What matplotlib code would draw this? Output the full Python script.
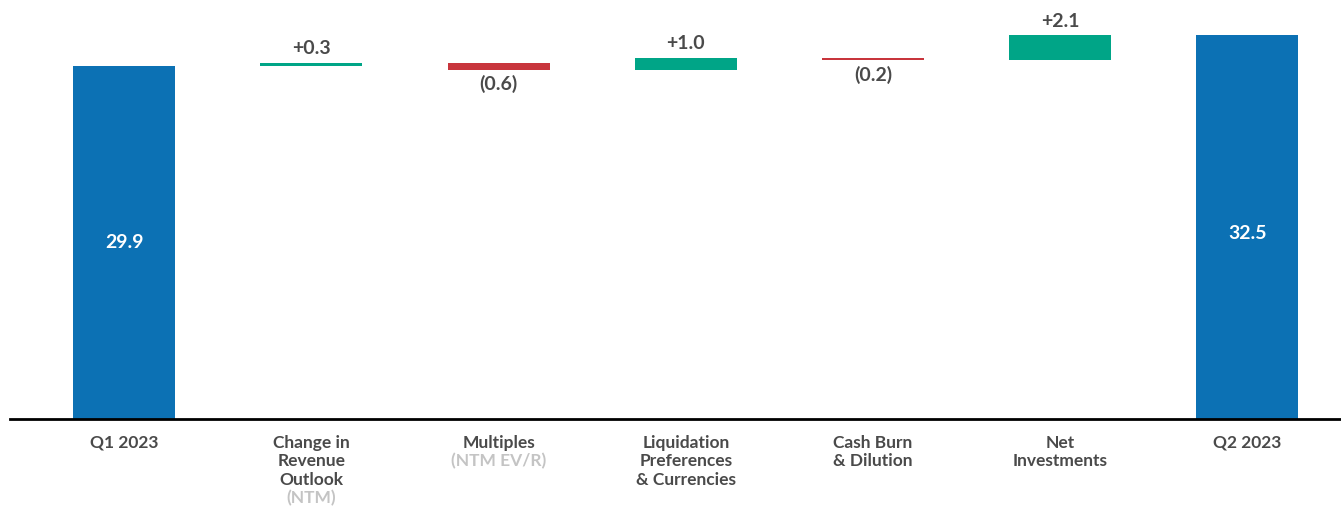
import matplotlib.pyplot as plt
import numpy as np

plt.rcParams['font.family'] = ['Lato', 'DejaVu Sans']

# waterfall data
labels = [['Q1 2023'], ['Change in', 'Revenue', 'Outlook'], ['Multiples'],
          ['Liquidation', 'Preferences', '& Currencies'], ['Cash Burn', '& Dilution'],
          ['Net', 'Investments'], ['Q2 2023']]
sublabels = ['', '(NTM)', '(NTM EV/R)', '', '', '', '']
start = 29.9
deltas = [0.3, -0.6, 1.0, -0.2, 2.1]
end = 32.5

blue = '#0c71b4'
green = '#00a587'
red = '#c8353c'
txt = '#4a4a4a'
sub = '#c4c4c4'

fig = plt.figure(figsize=(13.41, 5.07), dpi=100)
ax = fig.add_axes([0.0075, 0.1736, 0.9925, 0.8264])

w = 0.545
ax.bar(0, start, width=w, color=blue)
ax.text(0, start / 2, f'{start:.1f}', ha='center', va='center', color='white',
        fontsize=14, fontweight='bold')

level = start
for i, d in enumerate(deltas, start=1):
    bottom = level if d > 0 else level + d
    ax.bar(i, abs(d), bottom=bottom, width=w, color=green if d > 0 else red)
    if d > 0:
        ax.annotate(f'+{d:.1f}', xy=(i, level + d), xytext=(0, 4), textcoords='offset points',
                    ha='center', va='bottom', color=txt, fontsize=14, fontweight='bold')
    else:
        ax.annotate(f'({abs(d):.1f})', xy=(i, level + d), xytext=(0, -4), textcoords='offset points',
                    ha='center', va='top', color=txt, fontsize=14, fontweight='bold')
    level += d

ax.bar(6, end, width=w, color=blue)
ax.text(6, end / 2 - 0.5, f'{end:.1f}', ha='center', va='center', color='white',
        fontsize=14, fontweight='bold')

# category labels under the axis
for i, lines in enumerate(labels):
    for k, line in enumerate(lines):
        ax.annotate(line, xy=(i, 0), xycoords=('data', 'axes fraction'),
                    xytext=(0, -(24 + k * 18.5) * 0.72), textcoords='offset points',
                    ha='center', va='center', color=txt, fontsize=12.5, fontweight='bold')
    if sublabels[i]:
        k = len(lines)
        ax.annotate(sublabels[i], xy=(i, 0), xycoords=('data', 'axes fraction'),
                    xytext=(0, -(24 + k * 18.5) * 0.72), textcoords='offset points',
                    ha='center', va='center', color=sub, fontsize=12.5, fontweight='bold')

ax.set_xlim(-0.61, 6.5)
ax.set_ylim(0, 35.5)
for s in ['top', 'right', 'left']:
    ax.spines[s].set_visible(False)
ax.spines['bottom'].set_linewidth(2)
ax.spines['bottom'].set_color('black')
ax.set_xticks([])
ax.set_yticks([])

fig.savefig('out.png', dpi=100)
